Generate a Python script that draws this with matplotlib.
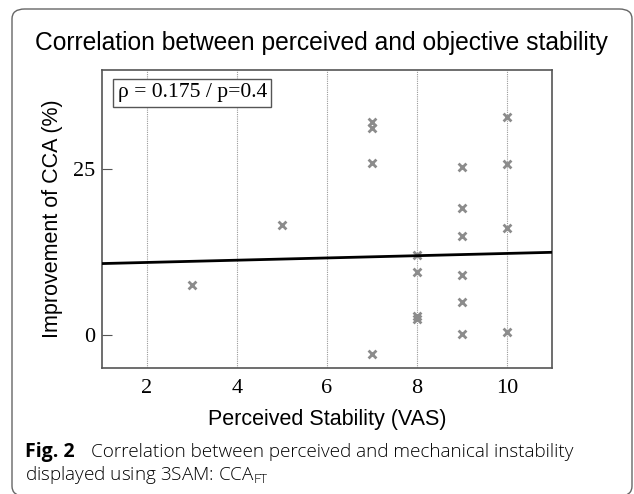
import numpy as np
import matplotlib
matplotlib.use("Agg")
import matplotlib.pyplot as plt
from matplotlib.patches import FancyBboxPatch


# DATA
vas_x = [3, 5, 7, 7, 7, 7, 8, 8, 8, 8, 9, 9, 9, 9, 9, 9, 10, 10, 10, 10]
cca_y = [7.5, 16.6, 32.1, 31.3, 25.9, -2.9, 12.0, 9.5, 2.9, 2.4,
         25.3, 19.2, 15.0, 9.1, 5.0, 0.1, 32.9, 25.8, 16.1, 0.5]

fit_intercept = 10.6
fit_slope = 0.17

x_ticks = [2, 4, 6, 8, 10]
y_ticks = [0, 25]

title_text = "Correlation between perceived and objective stability"
stat_text = "ρ = 0.175 / p=0.4"
x_label = "Perceived Stability (VAS)"
y_label = "Improvement of CCA (%)"


fig = plt.figure(figsize=(6.34, 4.94), dpi=100)

# rounded frame around the figure panel
frame = FancyBboxPatch(
    (12 / 634, -2 / 494), 620 / 634, 487 / 494,
    boxstyle="round,pad=0,rounding_size=0.02",
    transform=fig.transFigure,
    facecolor="none",
    edgecolor="#666666",
    linewidth=1.0
)
fig.patches.append(frame)

ax = fig.add_axes([102 / 634, 1 - 368 / 494, 450 / 634, 298 / 494])

ax.scatter(vas_x, cca_y, marker="x", s=32, color="#8c8c8c", linewidths=2, zorder=3)

xs = np.array([1, 11])
ax.plot(xs, fit_intercept + fit_slope * xs, color="black", linewidth=2, zorder=4)

ax.set_xlim(1, 11)
ax.set_ylim(-5, 40)
ax.set_xticks(x_ticks)
ax.set_yticks(y_ticks)
ax.xaxis.grid(True, linestyle=(0, (1, 1)), color="#999999", linewidth=0.8)
ax.tick_params(axis="x", length=0, pad=8)
ax.tick_params(axis="y", direction="in", length=7, pad=5, color="#555555")
for lab in ax.get_xticklabels() + ax.get_yticklabels():
    lab.set_fontfamily("Liberation Serif")
    lab.set_fontsize(16)

for sp in ax.spines.values():
    sp.set_color("#555555")
    sp.set_linewidth(1.2)

ax.text(
    0.035, 0.955, stat_text,
    transform=ax.transAxes,
    ha="left", va="top",
    fontsize=15.6, family="Liberation Serif",
    bbox=dict(boxstyle="square,pad=0.2", facecolor="white", edgecolor="#555555", linewidth=1)
)

ax.set_xlabel(x_label, fontsize=15.5, family="Liberation Sans", labelpad=8)
ax.set_ylabel(y_label, fontsize=15.5, family="Liberation Sans", labelpad=7)

fig.text(322 / 634, 1 - 43 / 494, title_text, ha="center", va="center",
         fontsize=17.7, family="Liberation Sans")

# caption below the chart
fig.text(25 / 634, 1 - 452 / 494, "Fig. 2", ha="left", va="center",
         fontsize=14, family="Open Sans", fontweight="bold")
fig.text(91 / 634, 1 - 452 / 494,
         "Correlation between perceived and mechanical instability",
         ha="left", va="center", fontsize=13.6, family="Open Sans", fontweight="light")
fig.text(25 / 634, 1 - 475 / 494,
         r"displayed using 3SAM: CCA$_\mathregular{FT}$",
         ha="left", va="center", fontsize=13.6, family="Open Sans", fontweight="light")

fig.savefig("out.png", dpi=100)
